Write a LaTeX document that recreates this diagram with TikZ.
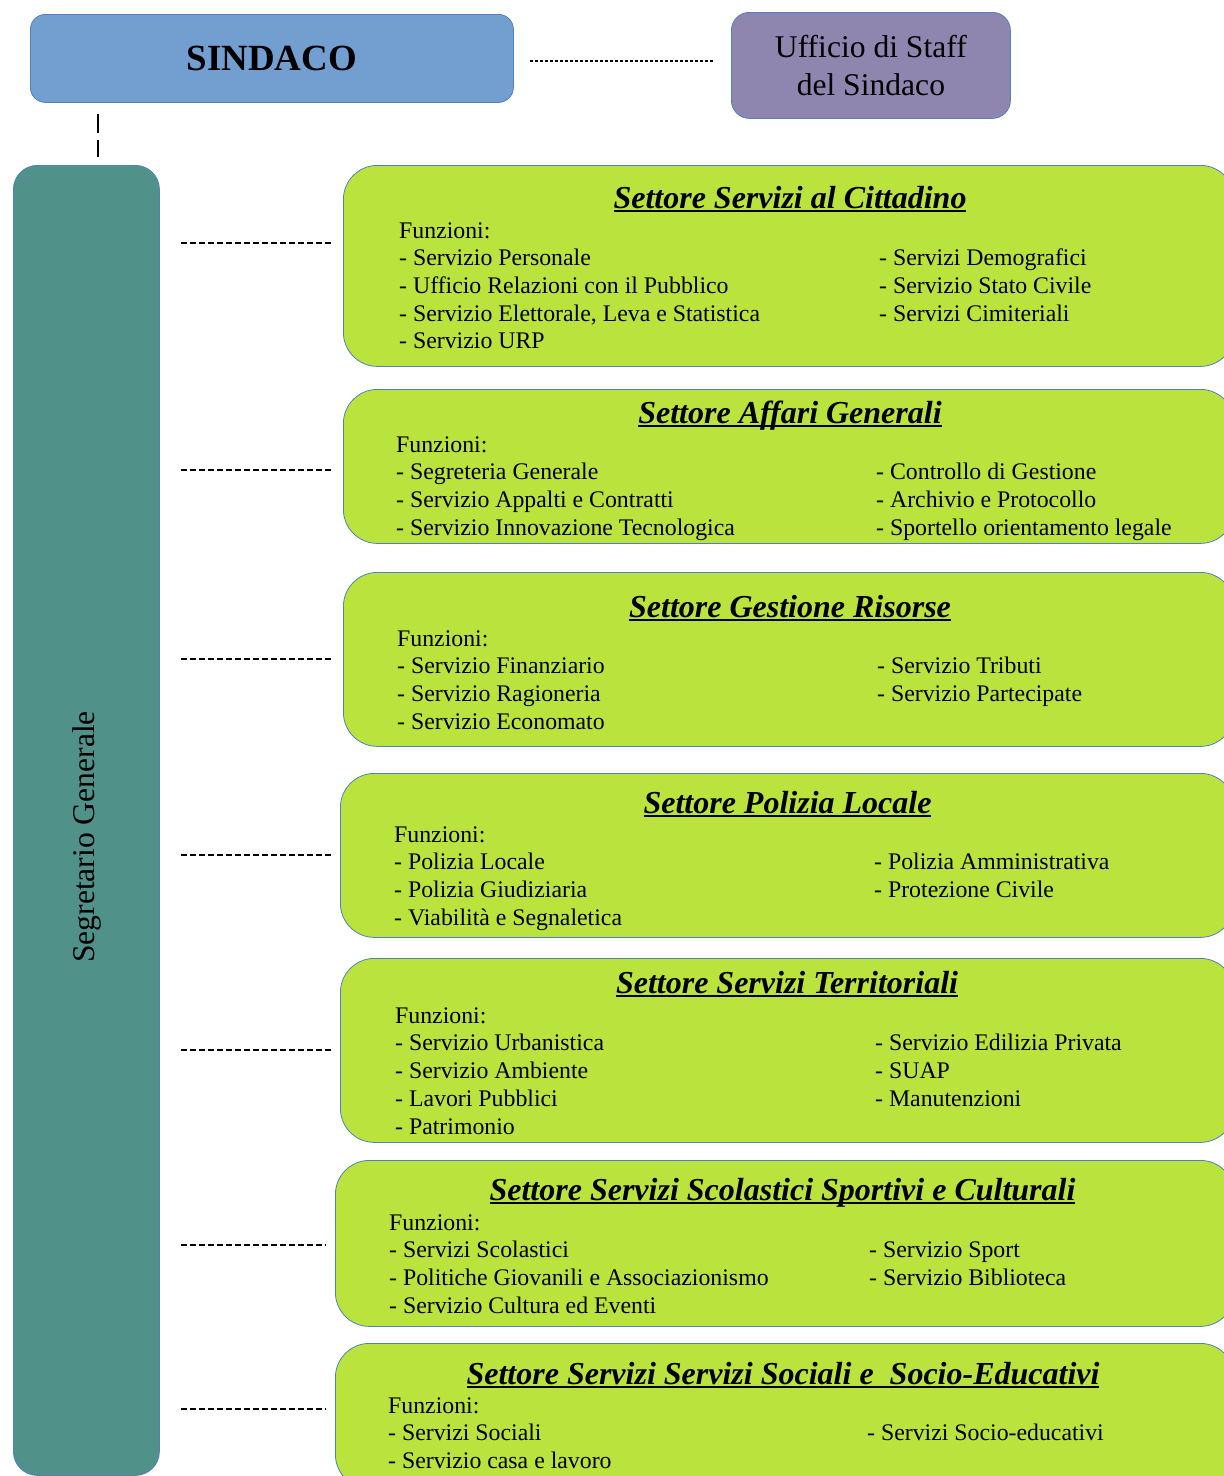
\documentclass[tikz,border=0pt]{standalone}
\usepackage{fontspec}
\setmainfont{Liberation Serif}

\definecolor{bordo}{RGB}{79,129,189}
\definecolor{azzurro}{RGB}{114,159,207}
\definecolor{viola}{RGB}{142,134,174}
\definecolor{petrolio}{RGB}{80,146,138}
\definecolor{verdino}{RGB}{187,227,61}

\newcommand{\corpo}{\fontsize{23.8}{27.7}\selectfont}
\newcommand{\titolo}[1]{\setbox0\hbox{\fontsize{32}{38}\selectfont\bfseries\itshape #1}%
  \rlap{\rule[-3.8pt]{\wd0}{1.7pt}}\box0}

\begin{document}
\begin{tikzpicture}[x=1pt,y=-1pt,
  casella/.style={draw=bordo,line width=0.8pt,rounded corners=#1,inner sep=0,anchor=north west},
  casella/.default=34pt,
  settore/.style={casella,fill=verdino},
  tit/.style={anchor=base,inner sep=0},
  funz/.style={anchor=north west,inner sep=0,align=left,font=\corpo,yshift=19.4pt},
  trat/.style={line width=2pt,dash pattern=on 6pt off 3pt}]

\useasboundingbox (0,0) rectangle (1224,1476);
\clip (0,0) rectangle (1224,1476);

\node[casella=15pt,fill=azzurro,minimum width=483pt,minimum height=88pt,
  font=\fontsize{36.9}{44}\selectfont\bfseries](sind) at (30,14){SINDACO};
\node[casella=18pt,fill=viola,minimum width=279pt,minimum height=106pt,align=center,
  font=\fontsize{31.6}{38}\selectfont](staff) at (731,12){Ufficio di Staff\\del Sindaco};
\node[casella=24pt,fill=petrolio,minimum width=146pt,minimum height=1310pt](seg) at (13,165){};
\node[rotate=90,font=\fontsize{31.6}{38}\selectfont](segtxt) at (87,837){Segretario Generale};

\draw[line width=2pt,dash pattern=on 3pt off 2pt]([xshift=16pt,yshift=-3pt]sind.east)--([xshift=-17pt,yshift=-3pt]sind.east -| staff.west);
\draw[line width=2pt,dash pattern=on 19pt off 7pt,shorten <=11pt,shorten >=8pt]([xshift=68pt]sind.south west)--([xshift=68pt]sind.south west |- seg.north);

\node[settore,minimum width=891pt,minimum height=201pt](s1) at (343,165){};
\node[settore,minimum width=891pt,minimum height=154pt](s2) at (343,389){};
\node[settore,minimum width=891pt,minimum height=174pt](s3) at (343,572){};
\node[settore,minimum width=894pt,minimum height=164pt](s4) at (340,773){};
\node[settore,minimum width=894pt,minimum height=184pt](s5) at (340,958){};
\node[settore,minimum width=899pt,minimum height=166pt](s6) at (335,1160){};
\node[settore,minimum width=899pt,minimum height=145pt](s7) at (335,1343){};

\foreach \s/\dy/\acc in {s1/22.5/10,s2/-4/10,s3/0/10,s4/0/7,s5/0/7,s6/-2/10,s7/6.5/10}
  \draw[trat,shorten <=21pt,shorten >=\acc pt]([yshift=\dy pt]seg.east |- \s.west)--([yshift=\dy pt]\s.west);

% Servizi al Cittadino
\node[tit](t1) at (790,208){\titolo{Settore Servizi al Cittadino}};
\node[funz](f1) at (399,238){\strut Funzioni:\\- Servizio Personale\\- Ufficio Relazioni con il Pubblico\\- Servizio Elettorale, Leva e Statistica\\- Servizio URP};
\node[funz](g1) at (879,265.7){\strut - Servizi Demografici\\- Servizio Stato Civile\\- Servizi Cimiteriali};

% Affari Generali
\node[tit](t2) at (790,423){\titolo{Settore Affari Generali}};
\node[funz](f2) at (396,452){\strut Funzioni:\\- Segreteria Generale\\- Servizio Appalti e Contratti\\- Servizio Innovazione Tecnologica};
\node[funz](g2) at (876,479.7){\strut - Controllo di Gestione\\- Archivio e Protocollo\\- Sportello orientamento legale};

% Gestione Risorse
\node[tit](t3) at (790,617){\titolo{Settore Gestione Risorse}};
\node[funz](f3) at (397,646){\strut Funzioni:\\- Servizio Finanziario\\- Servizio Ragioneria\\- Servizio Economato};
\node[funz](g3) at (877,673.7){\strut - Servizio Tributi\\- Servizio Partecipate};

% Polizia Locale
\node[tit](t4) at (787.5,813){\titolo{Settore Polizia Locale}};
\node[funz](f4) at (394,842){\strut Funzioni:\\- Polizia Locale\\- Polizia Giudiziaria\\- Viabilità e Segnaletica};
\node[funz](g4) at (874,869.7){\strut - Polizia Amministrativa\\- Protezione Civile};

% Servizi Territoriali
\node[tit](t5) at (787,993){\titolo{Settore Servizi Territoriali}};
\node[funz](f5) at (395,1023){\strut Funzioni:\\- Servizio Urbanistica\\- Servizio Ambiente\\- Lavori Pubblici\\- Patrimonio};
\node[funz](g5) at (875,1050.7){\strut - Servizio Edilizia Privata\\- SUAP\\- Manutenzioni};

% Scolastici Sportivi e Culturali
\node[tit](t6) at (782.5,1200){\titolo{Settore Servizi Scolastici Sportivi e Culturali}};
\node[funz](f6) at (389,1230){\strut Funzioni:\\- Servizi Scolastici\\- Politiche Giovanili e Associazionismo\\- Servizio Cultura ed Eventi};
\node[funz](g6) at (869,1257.7){\strut - Servizio Sport\\- Servizio Biblioteca};

% Sociali e Socio-Educativi
\node[tit](t7) at (783,1384){\titolo{Settore Servizi Servizi Sociali e~~Socio-Educativi}};
\node[funz](f7) at (388,1413){\strut Funzioni:\\- Servizi Sociali\\- Servizio casa e lavoro};
\node[funz](g7) at (867,1440.7){\strut - Servizi Socio-educativi};

\end{tikzpicture}
\end{document}
